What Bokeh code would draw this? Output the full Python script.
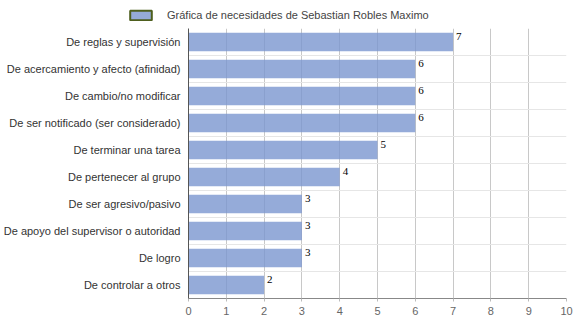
from bokeh.plotting import figure
from bokeh.layouts import column, row
from bokeh.models import (ColumnDataSource, Range1d, FixedTicker, Legend, LegendItem)
from bokeh.core.properties import value
from bokeh.embed import file_html
from bokeh.resources import INLINE

categories = [
    "De reglas y supervisión",
    "De acercamiento y afecto (afinidad)",
    "De cambio/no modificar",
    "De ser notificado (ser considerado)",
    "De terminar una tarea",
    "De pertenecer al grupo",
    "De ser agresivo/pasivo",
    "De apoyo del supervisor o autoridad",
    "De logro",
    "De controlar a otros",
]
values = [7, 6, 6, 6, 5, 4, 3, 3, 3, 2]
x_ticks = [0, 1, 2, 3, 4, 5, 6, 7, 8, 9, 10]
series_name = "Gráfica de necesidades de Sebastian Robles Maximo"

n = len(categories)
ypos = [i + 0.5 for i in range(n)]
src = ColumnDataSource(dict(y=ypos, v=values, lab=[str(v) for v in values],
                            ty=[y - 0.34 for y in ypos]))

# ---- legend strip on top ----
top = figure(width=574, height=28, output_backend="svg", toolbar_location=None,
             x_range=Range1d(0, 1), y_range=Range1d(0, 1),
             x_axis_location=None, y_axis_location=None,
             min_border_left=0, min_border_right=0, min_border_top=0,
             min_border_bottom=0)
top.outline_line_color = None
top.xgrid.visible = False
top.ygrid.visible = False
dsrc = ColumnDataSource(dict(y=[0.5], l=[0], r=[0]))
dummy = top.hbar(y="y", right="r", left="l", height=0.0, source=dsrc,
                 fill_color="#95abd8", line_color="#4e5f1e", line_width=2)
legend = Legend(items=[LegendItem(label=series_name, renderers=[dummy])],
                orientation="horizontal", location=(127, 7),
                glyph_width=27, glyph_height=12, padding=5, margin=0,
                spacing=0, label_standoff=13,
                label_text_font="Liberation Sans", label_text_font_size="11px",
                label_text_color="#444444", border_line_color=None,
                background_fill_alpha=0)
top.add_layout(legend, "center")

# ---- main chart ----
p = figure(width=574, height=295, output_backend="svg", toolbar_location=None,
           x_range=Range1d(0, 10), y_range=Range1d(n, 0),
           min_border_left=188, min_border_right=8, min_border_top=0,
           min_border_bottom=25)
p.outline_line_color = None
p.background_fill_color = "white"

bars = p.hbar(y="y", right="v", left=0, height=0.68, source=src,
              fill_color="#7b96cf", fill_alpha=0.8, line_color=None)
p.text(x="v", y="ty", text="lab", source=src, x_offset=3,
       text_baseline="top", text_align="left", text_font=value("Liberation Serif"),
       text_font_size="11px", text_color="#000000")

# x axis
p.xaxis.ticker = FixedTicker(ticks=x_ticks)
p.xaxis.axis_line_color = "#888888"
p.xaxis.major_tick_line_color = "#bbbbbb"
p.xaxis.major_tick_in = 0
p.xaxis.major_tick_out = 3
p.xaxis.minor_tick_line_color = None
p.xaxis.major_label_text_font = "Liberation Sans"
p.xaxis.major_label_text_font_size = "11px"
p.xaxis.major_label_text_color = "#666666"
p.xaxis.major_label_standoff = 5

# y axis
p.yaxis.ticker = FixedTicker(ticks=ypos)
p.yaxis.major_label_overrides = {y: c for y, c in zip(ypos, categories)}
p.yaxis.axis_line_color = "#555555"
p.yaxis.major_tick_line_color = None
p.yaxis.major_tick_in = 0
p.yaxis.major_tick_out = 0
p.yaxis.minor_tick_line_color = None
p.yaxis.major_label_standoff = 8
p.yaxis.major_label_text_font = "Liberation Sans"
p.yaxis.major_label_text_font_size = "11px"
p.yaxis.major_label_text_color = "#333333"

p.xgrid.grid_line_color = "#c8c8c8"
p.xgrid.ticker = FixedTicker(ticks=x_ticks)
p.ygrid.ticker = FixedTicker(ticks=list(range(0, n)))
p.ygrid.grid_line_color = "#e6e6e6"

layout = column(row(top, spacing=0), p, spacing=0)
open("out.html", "w").write(file_html(layout, INLINE))
